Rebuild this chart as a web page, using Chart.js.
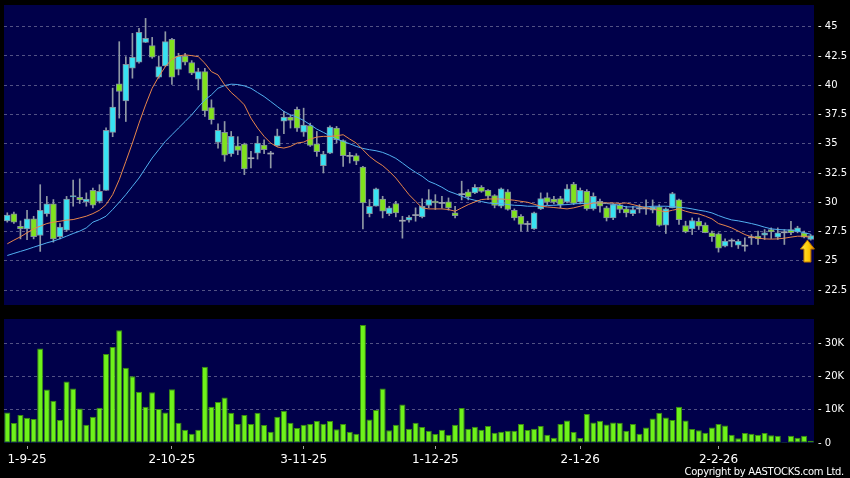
<!DOCTYPE html>
<html>
<head>
<meta charset="utf-8">
<script src="https://cdn.jsdelivr.net/npm/chart.js@4.4.1/dist/chart.umd.min.js"></script>
<style>
  html, body { margin: 0; padding: 0; background: #000; }
  #wrap { position: relative; width: 850px; height: 478px; overflow: hidden; background: #000; }
  #copy { position: absolute; right: 6px; top: 466px; color: #fff; font: 10px 'DejaVu Sans', sans-serif; letter-spacing: -0.3px; white-space: nowrap; }
</style>
</head>
<body>
<div id="wrap">
  <canvas id="priceChart" width="850" height="310" style="position:absolute;left:0;top:0"></canvas>
  <canvas id="volChart" width="850" height="168" style="position:absolute;left:0;top:310px"></canvas>
  <div id="copy">Copyright by AASTOCKS.com Ltd.</div>
</div>
<script>
// daily candles, 27-8-25 .. 20-2-26
const opens = [28.4, 29.0, 27.95, 27.73, 28.58, 27.16, 29.0, 29.86, 27.05, 27.61,
  30.45, 30.43, 30.03, 31.02, 30.08, 31.02, 35.97, 40.11, 38.66, 41.45,
  41.96, 43.66, 43.38, 40.68, 41.65, 43.92, 41.36, 42.5, 41.93, 40.51,
  41.16, 38.1, 35.11, 35.97, 34.12, 34.83, 34.97, 33.72, 34.2, 34.89,
  34.12, 34.83, 36.93, 37.27, 37.95, 35.99, 36.56, 35.0, 33.13, 34.2,
  36.34, 35.28, 33.92, 33.98, 33.01, 29.03, 29.66, 30.28, 29.03, 29.89,
  28.38, 28.47, 28.86, 28.75, 29.72, 30.11, 29.9, 30.03, 29.09, 30.65,
  30.88, 30.8, 31.28, 31.02, 30.57, 29.66, 30.88, 29.32, 28.8, 28.1,
  27.73, 29.43, 30.4, 30.28, 30.31, 30.03, 31.56, 30.0, 30.93, 29.43,
  30.08, 29.52, 28.66, 29.77, 29.43, 29.03, 29.43, 29.43, 29.32, 29.6,
  28.04, 29.52, 30.2, 28.01, 27.73, 28.38, 28.04, 27.39, 27.3, 26.25,
  26.68, 26.34, 26.25, 26.96, 27.1, 27.19, 27.67, 27.02, 27.39, 27.67,
  27.47, 27.39, 26.82];
const highs = [29.1, 29.15, 28.4, 29.3, 28.8, 31.5, 30.5, 30.23, 28.18, 30.5,
  31.9, 32.0, 30.8, 31.22, 31.5, 36.35, 39.75, 43.72, 42.44, 44.43,
  44.86, 45.71, 44.09, 42.5, 44.57, 44.0, 42.73, 42.73, 42.1, 41.45,
  41.45, 38.75, 36.7, 36.9, 36.05, 35.6, 35.05, 34.35, 35.63, 35.34,
  34.35, 36.25, 37.76, 37.47, 38.13, 38.04, 36.76, 36.05, 34.35, 36.53,
  36.48, 35.34, 34.27, 34.15, 33.07, 30.23, 31.22, 30.51, 29.66, 30.08,
  28.8, 28.86, 29.52, 30.3, 31.08, 30.65, 30.5, 30.37, 29.66, 31.8,
  31.08, 31.5, 31.42, 31.08, 30.65, 31.22, 31.08, 29.43, 28.95, 28.38,
  29.15, 30.8, 30.8, 30.5, 30.51, 31.5, 31.7, 31.22, 31.08, 30.8,
  30.28, 29.66, 29.89, 29.89, 29.66, 29.66, 29.8, 30.2, 30.2, 29.8,
  29.52, 30.85, 30.28, 28.38, 28.66, 28.66, 28.24, 27.53, 27.39, 26.88,
  26.88, 26.82, 26.96, 27.24, 27.53, 27.67, 27.81, 27.81, 27.67, 28.38,
  27.95, 27.53, 27.24];
const lows = [28.3, 28.2, 26.87, 26.8, 26.87, 25.8, 28.8, 26.59, 26.87, 27.5,
  29.66, 29.89, 29.66, 29.52, 29.94, 31.02, 35.6, 37.19, 36.9, 40.6,
  41.88, 43.64, 42.3, 40.6, 41.6, 40.06, 40.88, 41.73, 40.9, 39.6,
  37.33, 36.68, 34.63, 33.5, 33.92, 34.06, 32.36, 32.93, 33.69, 34.15,
  32.93, 34.77, 35.85, 36.34, 36.05, 35.63, 34.77, 33.92, 32.5, 34.15,
  35.06, 33.07, 33.35, 33.21, 27.73, 28.75, 29.66, 28.66, 28.86, 28.75,
  26.93, 28.3, 28.38, 28.66, 29.52, 29.38, 29.5, 29.32, 28.66, 30.2,
  30.2, 30.74, 30.85, 30.23, 29.52, 29.52, 29.32, 28.47, 27.53, 27.53,
  27.67, 29.38, 29.8, 29.86, 29.52, 29.94, 29.8, 29.86, 29.32, 29.32,
  29.15, 28.4, 28.52, 29.1, 28.75, 28.86, 29.09, 28.95, 29.09, 27.95,
  27.33, 29.52, 28.1, 27.39, 27.24, 27.67, 27.39, 26.65, 25.74, 26.19,
  26.19, 26.05, 25.82, 26.39, 26.39, 26.82, 26.9, 26.82, 26.39, 27.24,
  27.39, 26.96, 26.76];
const closes = [28.9, 28.3, 27.75, 28.58, 27.05, 29.32, 29.86, 26.87, 27.87, 30.28,
  30.57, 30.2, 30.28, 29.74, 30.93, 36.14, 38.13, 39.46, 41.79, 42.39,
  44.52, 44.0, 42.39, 41.59, 43.72, 40.68, 42.5, 41.96, 41.02, 41.16,
  37.81, 37.05, 36.14, 34.03, 35.63, 34.43, 32.84, 33.72, 35.06, 34.49,
  34.12, 35.68, 37.27, 36.99, 36.34, 36.59, 34.86, 34.32, 34.12, 36.42,
  35.34, 33.98, 33.92, 33.5, 29.94, 29.66, 31.14, 29.23, 29.52, 29.09,
  28.38, 28.72, 28.86, 29.66, 30.23, 29.94, 29.9, 29.52, 28.86, 30.65,
  30.45, 31.28, 30.93, 30.51, 29.72, 31.14, 29.38, 28.66, 28.1, 28.1,
  29.09, 30.31, 30.0, 30.0, 29.8, 31.14, 29.89, 31.02, 29.43, 30.51,
  29.66, 28.66, 29.8, 29.38, 29.09, 29.38, 29.43, 29.43, 29.6, 28.01,
  29.43, 30.74, 28.52, 27.47, 28.44, 27.95, 27.39, 27.05, 26.08, 26.68,
  26.68, 26.68, 26.25, 26.96, 26.87, 27.39, 27.47, 27.39, 27.39, 27.39,
  27.81, 27.02, 27.16];

// moving averages as drawn (orange = 10 day, blue = 20 day)
const ma10 = [26.45, 26.76, 27.05, 27.39, 27.73, 27.95, 28.18, 28.30, 28.38, 28.47,
  28.52, 28.66, 28.81, 29.03, 29.32, 29.80, 30.65, 31.93, 33.49, 35.06,
  36.76, 38.32, 39.74, 40.74, 41.59, 42.22, 42.50, 42.59, 42.53, 42.44,
  41.88, 41.16, 40.88, 40.03, 39.38, 38.89, 38.32, 37.19, 36.34, 35.63,
  35.06, 34.72, 34.63, 34.77, 35.06, 35.14, 35.40, 35.57, 35.63, 35.63,
  35.68, 35.77, 35.40, 35.06, 34.49, 33.92, 33.49, 33.13, 32.64, 32.07,
  31.36, 30.65, 30.08, 29.52, 29.43, 29.43, 29.43, 29.38, 29.23, 29.52,
  29.80, 30.03, 30.23, 30.28, 30.28, 30.28, 30.23, 30.17, 30.08, 30.00,
  29.83, 29.66, 29.60, 29.55, 29.49, 29.43, 29.52, 29.66, 29.80, 29.94,
  29.94, 29.94, 29.94, 29.90, 29.94, 29.80, 29.66, 29.52, 29.43, 29.29,
  29.18, 29.32, 29.43, 29.23, 29.09, 29.00, 28.81, 28.58, 28.18, 28.01,
  27.81, 27.53, 27.24, 27.05, 26.93, 26.87, 26.85, 26.87, 26.93, 27.02,
  27.10, 27.10, 27.00];
const ma20 = [25.45, 25.63, 25.80, 25.97, 26.16, 26.34, 26.53, 26.68, 26.88, 27.10,
  27.33, 27.53, 27.81, 28.30, 28.52, 28.81, 29.38, 30.00, 30.65, 31.36,
  32.07, 32.93, 33.78, 34.49, 35.20, 35.77, 36.34, 36.90, 37.47, 38.13,
  38.75, 39.18, 39.74, 39.97, 40.09, 40.06, 39.94, 39.74, 39.38, 39.03,
  38.61, 38.18, 37.76, 37.47, 37.27, 36.99, 36.62, 36.25, 35.97, 35.68,
  35.40, 35.20, 35.00, 34.77, 34.60, 34.49, 34.40, 34.26, 34.03, 33.75,
  33.35, 32.93, 32.56, 32.22, 31.79, 31.56, 31.28, 30.94, 30.74, 30.51,
  30.31, 30.17, 30.06, 29.94, 29.89, 29.89, 29.80, 29.74, 29.72, 29.66,
  29.66, 29.66, 29.72, 29.74, 29.77, 29.80, 29.86, 29.89, 29.91, 29.94,
  29.94, 29.89, 29.83, 29.74, 29.60, 29.60, 29.60, 29.60, 29.66, 29.66,
  29.66, 29.63, 29.57, 29.52, 29.43, 29.32, 29.23, 29.09, 28.86, 28.66,
  28.49, 28.41, 28.30, 28.18, 28.04, 27.87, 27.73, 27.67, 27.64, 27.61,
  27.53, 27.39, 27.27];

// volume in thousands of shares
const volumes = [9.2, 6.0, 8.4, 7.6, 7.2, 28.4, 16.1, 12.7, 6.9, 18.5,
  16.4, 10.4, 5.5, 7.9, 10.6, 26.8, 28.9, 33.9, 22.6, 20.1,
  15.4, 10.9, 15.3, 10.2, 9.2, 16.2, 6.1, 4.0, 2.8, 4.0,
  22.9, 10.9, 12.3, 13.7, 9.1, 5.7, 8.4, 5.7, 9.1, 5.4,
  3.4, 7.9, 9.7, 6.1, 4.5, 5.5, 5.7, 6.6, 5.8, 6.6,
  4.1, 5.7, 3.4, 2.8, 35.5, 7.1, 9.9, 16.4, 3.8, 5.5,
  11.6, 4.3, 6.1, 4.8, 3.7, 2.7, 4.0, 2.5, 5.5, 10.5,
  4.3, 4.9, 4.0, 5.1, 3.1, 3.4, 3.7, 3.7, 5.7, 3.9,
  4.3, 5.1, 2.5, 1.6, 5.7, 6.8, 3.3, 1.5, 8.7, 6.2,
  6.7, 5.6, 6.2, 6.1, 3.7, 5.7, 2.8, 4.7, 7.4, 9.1,
  7.7, 6.9, 10.9, 6.8, 4.2, 3.8, 3.1, 4.7, 5.7, 5.3,
  2.5, 1.4, 3.0, 2.8, 2.5, 3.0, 2.3, 2.2, 0.3, 2.2,
  1.6, 2.2, 0.7];

const dateLabels = ['1-9-25', '2-10-25', '3-11-25', '1-12-25', '2-1-26', '2-2-26'];
const dateLabelIdx = [3, 25, 45, 65, 87, 108];
const monthGridIdx = [3.5, 25.5, 45.5, 65.5, 86.5, 107.5];
const priceTicks = [22.5, 25, 27.5, 30, 32.5, 35, 37.5, 40, 42.5, 45];
const volTicks = [0, 10, 20, 30];
const arrowAt = { index: 121.5, price: 26.77 };

const labels = closes.map((c, i) => i);

const navy = '#00004a';
const gridColor = 'rgba(150,150,180,0.55)';
const upColor = '#38e2f2';
const downColor = '#80e21e';
const dojiColor = '#a0a6b0';

Chart.defaults.font.family = "'DejaVu Sans', sans-serif";

// keep the plot area where the layout padding puts it
function noPad(s) {
  s.paddingTop = 0; s.paddingBottom = 0; s.paddingLeft = 0; s.paddingRight = 0;
}

const areaFill = {
  id: 'areaFill',
  beforeDraw(chart) {
    const { ctx, chartArea: a } = chart;
    ctx.save();
    ctx.fillStyle = navy;
    ctx.fillRect(a.left, a.top, a.right - a.left, a.bottom - a.top);
    ctx.restore();
  }
};

const lastArrow = {
  id: 'lastArrow',
  afterDatasetsDraw(chart) {
    const ctx = chart.ctx;
    const x = chart.scales.x.getPixelForValue(arrowAt.index);
    const y = chart.scales.y.getPixelForValue(arrowAt.price);
    ctx.save();
    ctx.beginPath();
    ctx.moveTo(x, y);
    ctx.lineTo(x + 7, y + 9);
    ctx.lineTo(x + 3.5, y + 9);
    ctx.lineTo(x + 3.5, y + 22);
    ctx.lineTo(x - 3.5, y + 22);
    ctx.lineTo(x - 3.5, y + 9);
    ctx.lineTo(x - 7, y + 9);
    ctx.closePath();
    const g = ctx.createLinearGradient(x - 7, 0, x + 7, 0);
    g.addColorStop(0, '#ffe94a');
    g.addColorStop(0.6, '#ffc800');
    g.addColorStop(1, '#e08a00');
    ctx.fillStyle = g;
    ctx.fill();
    ctx.strokeStyle = '#b87000';
    ctx.lineWidth = 1;
    ctx.stroke();
    ctx.restore();
  }
};

function candleColor(i) {
  if (closes[i] > opens[i]) return upColor;
  if (closes[i] < opens[i]) return downColor;
  return dojiColor;
}

new Chart(document.getElementById('priceChart').getContext('2d'), {
  type: 'bar',
  data: {
    labels: labels,
    datasets: [
      {
        type: 'line', label: 'MA10', data: ma10, borderColor: '#e8864a',
        borderWidth: 1, pointRadius: 0, tension: 0, order: 0
      },
      {
        type: 'line', label: 'MA20', data: ma20, borderColor: '#52b0f0',
        borderWidth: 1, pointRadius: 0, tension: 0, order: 0
      },
      {
        label: 'body',
        data: opens.map((o, i) => [o, closes[i]]),
        backgroundColor: ctx => candleColor(ctx.dataIndex),
        borderColor: 'rgba(135,148,160,0.95)',
        borderWidth: ctx => opens[ctx.dataIndex] === closes[ctx.dataIndex] ? 0 : 1,
        borderSkipped: false,
        minBarLength: 1,
        barThickness: 6,
        grouped: false,
        order: 1
      },
      {
        label: 'wick',
        data: lows.map((l, i) => [l, highs[i]]),
        backgroundColor: '#8f98a4',
        borderWidth: 0,
        barThickness: 1,
        grouped: false,
        order: 2
      }
    ]
  },
  options: {
    responsive: false,
    animation: false,
    events: [],
    layout: { padding: { left: 4, top: 5, right: 0, bottom: 5 } },
    plugins: { legend: { display: false }, tooltip: { enabled: false } },
    scales: {
      x: {
        type: 'category',
        offset: true,
        afterBuildTicks: s => { s.ticks = monthGridIdx.map(v => ({ value: v })); },
        afterFit: s => { s.height = 0; noPad(s); },
        ticks: { display: false, autoSkip: false },
        grid: { color: gridColor, offset: false, drawTicks: false },
        border: { display: false, dash: [3, 3] }
      },
      y: {
        position: 'right',
        min: 21.22,
        max: 46.855,
        afterBuildTicks: s => { s.ticks = priceTicks.map(v => ({ value: v })); },
        afterFit: s => { s.width = 36; noPad(s); },
        ticks: {
          color: '#ffffff', font: { size: 10 }, padding: 4,
          callback: v => '- ' + v
        },
        grid: { color: gridColor, drawTicks: false },
        border: { display: false, dash: [3, 3] }
      }
    }
  },
  plugins: [areaFill, lastArrow]
});

new Chart(document.getElementById('volChart').getContext('2d'), {
  type: 'bar',
  data: {
    labels: labels,
    datasets: [{
      label: 'volume',
      data: volumes,
      backgroundColor: '#6ef21a',
      borderColor: '#3a8c10',
      borderWidth: 1,
      borderSkipped: false,
      barPercentage: 0.92,
      categoryPercentage: 1.0
    }]
  },
  options: {
    responsive: false,
    animation: false,
    events: [],
    layout: { padding: { left: 4, top: 9, right: 0, bottom: 0 } },
    plugins: { legend: { display: false }, tooltip: { enabled: false } },
    scales: {
      x: {
        type: 'category',
        offset: true,
        position: 'bottom',
        afterBuildTicks: s => { s.ticks = monthGridIdx.map(v => ({ value: v })); },
        afterFit: s => { s.height = 0; noPad(s); },
        ticks: { display: false, autoSkip: false },
        grid: { color: gridColor, offset: false, drawTicks: false },
        border: { display: false, dash: [3, 3] }
      },
      x2: {
        type: 'category',
        offset: true,
        position: 'bottom',
        afterBuildTicks: s => { s.ticks = dateLabelIdx.map(v => ({ value: v })); },
        afterFit: s => { s.height = 35; noPad(s); },
        ticks: {
          autoSkip: false, maxRotation: 0, color: '#ffffff', font: { size: 12 }, padding: 4,
          callback: v => dateLabels[dateLabelIdx.indexOf(v)]
        },
        grid: {
          drawOnChartArea: false, offset: false, drawTicks: true, tickLength: 6,
          tickColor: '#a0a0a0', tickBorderDash: [0, 3, 3, 10]
        },
        border: { display: false }
      },
      y: {
        position: 'right',
        min: 0,
        max: 37.3,
        afterBuildTicks: s => { s.ticks = volTicks.map(v => ({ value: v })); },
        afterFit: s => { s.width = 36; noPad(s); },
        ticks: {
          color: '#ffffff', font: { size: 10 }, padding: 4,
          callback: v => '- ' + (v === 0 ? '0' : v + 'K')
        },
        grid: { color: ctx => ctx.tick && ctx.tick.value === 0 ? 'transparent' : gridColor, drawTicks: false },
        border: { display: false, dash: [3, 3] }
      }
    }
  },
  plugins: [areaFill]
});
</script>
</body>
</html>
